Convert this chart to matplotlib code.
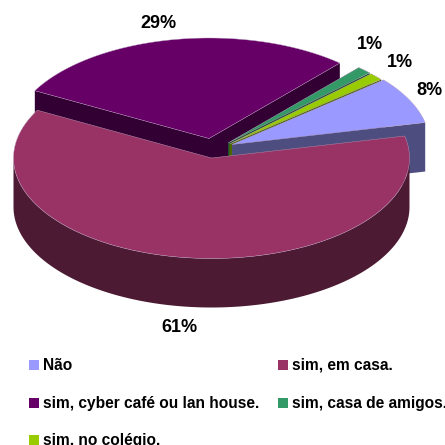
import numpy as np
import matplotlib
matplotlib.use('Agg')
import matplotlib.pyplot as plt
from matplotlib.patches import Polygon, Rectangle

# === DATA ===
categories = ['Não', 'sim, em casa.', 'sim, cyber café ou lan house.', 'sim, casa de amigos.', 'sim, no colégio.']
values = [7.6, 61.4, 28.6, 1.2, 1.2]

# === STYLE ===
top_colors = ['#9999FF', '#993366', '#660066', '#339966', '#99CC00']
side_colors = ['#4D4D80', '#4D1A33', '#330033', '#1A4D33', '#4D6600']
# exploded slice centres, in pixels
centers = [(232, 144.5), (211.5, 158), (209, 138.5), (228, 143), (229.5, 144)]
label_pos = [(429.5, 90.5), (179, 327.5), (158.5, 23.5), (369.5, 44.5), (399.5, 62.5)]
draw_order = [2, 3, 4, 0, 1]
RX, RY = 198, 100.5
DEPTH = 49
START_ANGLE = 40
FONT = 'Liberation Sans'

fig = plt.figure(figsize=(4.45, 4.45), dpi=100)
ax = fig.add_axes([0, 0, 1, 1])
ax.set_xlim(0, 445)
ax.set_ylim(445, 0)
ax.axis('off')


def ellipse_pts(center, a, b):
    t = np.radians(np.linspace(a, b, 200))
    return np.column_stack([center[0] + RX * np.cos(t), center[1] - RY * np.sin(t)])


# slices run clockwise from the start angle
ends = START_ANGLE - np.cumsum(values) * 3.6
starts = np.concatenate([[START_ANGLE], ends[:-1]])

for i in draw_order:
    c = centers[i]
    a, b = starts[i], ends[i]
    down = np.array([0, DEPTH])
    apex = np.array(c)
    arc = ellipse_pts(c, a, b)
    # flat cut walls
    for edge in (arc[0], arc[-1]):
        wall = [apex, edge, edge + down, apex + down]
        ax.add_patch(Polygon(wall, closed=True, fc=side_colors[i], ec='none', zorder=10 + draw_order.index(i)))
    # rim, only the part facing the viewer
    lo, hi = min(a, b), max(a, b)
    for k in (-360, 0):
        r0, r1 = max(lo, 180 + k), min(hi, 360 + k)
        if r1 > r0:
            rim = ellipse_pts(c, r0, r1)
            ax.add_patch(Polygon(np.vstack([rim, rim[::-1] + down]), closed=True, fc=side_colors[i], ec='none',
                                 zorder=10 + draw_order.index(i)))
    ax.add_patch(Polygon(np.vstack([apex, arc]), closed=True, fc=top_colors[i], ec='#B9A0C0', lw=0.3,
                         zorder=10 + draw_order.index(i)))

for i in range(len(values)):
    ax.text(label_pos[i][0], label_pos[i][1], f'{values[i]:.0f}%', family=FONT, fontweight='bold', fontsize=13,
            ha='center', va='center', color='black', zorder=30)

# Legend laid out by hand so it runs off the bottom and right like the original
legend_x = [29, 278, 29, 278, 29]
legend_y = [365, 365, 403, 403, 440]
for i in range(len(categories)):
    ax.add_patch(Rectangle((legend_x[i], legend_y[i] - 5), 10, 10, fc=top_colors[i], ec='none'))
    ax.text(legend_x[i] + 14, legend_y[i] + 5, categories[i], family=FONT, fontweight='bold', fontsize=11.2,
            ha='left', va='baseline', color='black', clip_on=False)

fig.savefig('out.png', dpi=100, facecolor='white')
